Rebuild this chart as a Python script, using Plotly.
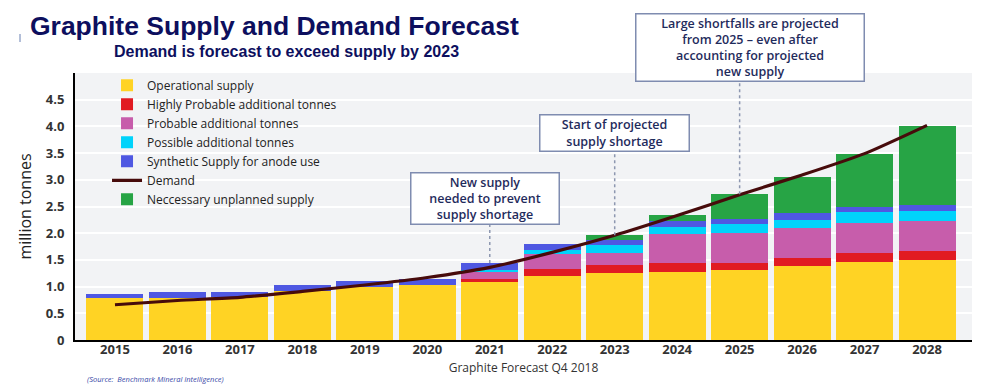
import plotly.graph_objects as go

# ---------------- data (million tonnes) ----------------
years = [str(y) for y in range(2015, 2029)]
operational = [0.78, 0.79, 0.80, 0.92, 0.99, 1.03, 1.08, 1.19, 1.26, 1.28, 1.31, 1.39, 1.47, 1.50]
highly_probable = [0, 0, 0, 0, 0, 0, 0.06, 0.14, 0.14, 0.16, 0.13, 0.14, 0.16, 0.17]
probable = [0, 0, 0, 0, 0, 0, 0.13, 0.28, 0.23, 0.54, 0.56, 0.57, 0.56, 0.55]
possible = [0, 0, 0, 0, 0, 0, 0.04, 0.08, 0.15, 0.14, 0.17, 0.15, 0.20, 0.19]
synthetic = [0.08, 0.10, 0.09, 0.11, 0.11, 0.12, 0.13, 0.11, 0.10, 0.11, 0.10, 0.12, 0.10, 0.11]
unplanned = [0, 0, 0, 0, 0, 0, 0, 0, 0.08, 0.12, 0.46, 0.69, 1.00, 1.49]
demand = [0.66, 0.74, 0.80, 0.91, 1.03, 1.17, 1.36, 1.64, 1.96, 2.33, 2.72, 3.09, 3.49, 4.02]

ytick_vals = [0, 0.5, 1.0, 1.5, 2.0, 2.5, 3.0, 3.5, 4.0, 4.5]
ytick_text = ["0", "0.5", "1.0", "1.5", "2.0", "2.5", "3.0", "3.5", "4.0", "4.5"]

callout_years = ["2021", "2023", "2025"]
callout_texts = [
    "New supply<br>needed to prevent<br>supply shortage",
    "Start of projected<br>supply shortage",
    "Large shortfalls are projected<br>from 2025 \u2013 even after<br>accounting for projected<br>new supply",
]

# ---------------- styling ----------------
C_YELLOW = "#FFD324"
C_RED = "#E11B22"
C_PINK = "#C75DAB"
C_CYAN = "#00D3FB"
C_BLUE = "#4F58E2"
C_GREEN = "#27A445"
C_DEMAND = "#470B0B"
NAVY = "#0D0F5E"
BOX_TXT = "#1F2B5C"
BOX_BORDER = "#7F8CB0"

fig = go.Figure()

bar_series = [
    ("Operational supply", operational, C_YELLOW),
    ("Highly Probable additional tonnes", highly_probable, C_RED),
    ("Probable additional tonnes", probable, C_PINK),
    ("Possible additional tonnes", possible, C_CYAN),
    ("Synthetic Supply for anode use", synthetic, C_BLUE),
]
for name, vals, col in bar_series:
    fig.add_trace(go.Bar(x=years, y=vals, name=name, marker=dict(color=col, line=dict(width=0))))

fig.add_trace(go.Scatter(x=years, y=demand, name="Demand", mode="lines",
                         line=dict(color=C_DEMAND, width=3.2, shape="spline", smoothing=0.6)))

fig.add_trace(go.Bar(x=years, y=unplanned, name="Neccessary unplanned supply",
                     marker=dict(color=C_GREEN, line=dict(width=0))))

totals = [sum(v) for v in zip(operational, highly_probable, probable, possible, synthetic, unplanned)]

# callout boxes: (bottom in data units, xshift px, box width, box height)
box_layout = [(2.16, -5, 145, 48), (3.52, 0, 146, 33), (4.83, 10, 225, 64)]
for yr, txt, (ybot, xs, w, h) in zip(callout_years, callout_texts, box_layout):
    idx = years.index(yr)
    fig.add_shape(type="line", xref="x", yref="y", x0=idx, x1=idx, y0=totals[idx], y1=ybot,
                  line=dict(color="#8D97B0", width=1.5, dash="dot"))
    fig.add_annotation(x=idx, y=ybot, xref="x", yref="y", text=txt, showarrow=False,
                       xanchor="center", yanchor="bottom", xshift=xs, width=w, height=h,
                       align="center", valign="middle",
                       bgcolor="white", bordercolor=BOX_BORDER, borderwidth=1.5, borderpad=1,
                       font=dict(family="Open Sans", size=12.5, color=BOX_TXT, weight=600))

# subtitle
fig.add_annotation(text="<b>Demand is forecast to exceed supply by 2023</b>", xref="paper", yref="paper",
                   x=0.2358, y=1.082, xanchor="center", yanchor="middle", showarrow=False,
                   font=dict(family="Liberation Sans, Arial", size=16, color=NAVY))
# source
fig.add_annotation(text="<i>(Source:  Benchmark Mineral Intelligence)</i>", xref="paper", yref="paper",
                   x=0.0111, y=-0.146, xanchor="left", yanchor="middle", showarrow=False,
                   font=dict(family="Open Sans", size=7.5, color="#3A4AA8"))
# small stray mark left of title
fig.add_shape(type="line", xref="paper", yref="paper", x0=-0.0613, x1=-0.0613, y0=1.116, y1=1.146,
              line=dict(color="#9AAACC", width=1.5))

fig.update_layout(
    width=989, height=387,
    margin=dict(l=75, r=17, t=73, b=47, autoexpand=False),
    paper_bgcolor="white",
    plot_bgcolor="#F2F3F5",
    barmode="stack",
    bargap=0.087,
    title=dict(text="<b>Graphite Supply and Demand Forecast</b>", xref="container", yref="container",
               x=0.0303, xanchor="left", y=0.934, yanchor="middle",
               font=dict(family="Liberation Sans, Arial", size=26.5, color=NAVY)),
    legend=dict(x=0.0357, y=1.008, xanchor="left", yanchor="top", bgcolor="rgba(0,0,0,0)",
                traceorder="normal", itemwidth=30,
                font=dict(family="Open Sans", size=12, color="#222222")),
    showlegend=True,
)

fig.update_xaxes(
    type="category", range=[-0.64, 13.72], automargin=False,
    showline=True, linecolor="black", linewidth=2,
    showgrid=False, ticks="", ticklabelstandoff=-4,
    tickfont=dict(family="Open Sans", size=13, color="#333333", weight=700),
    title=dict(text="Graphite Forecast Q4 2018", standoff=7,
               font=dict(family="Open Sans", size=12, color="#333333")),
)
fig.update_yaxes(
    range=[0, 5.0], automargin=False,
    tickvals=ytick_vals, ticktext=ytick_text,
    showline=True, linecolor="black", linewidth=2,
    showgrid=True, gridcolor="white", gridwidth=1.5,
    zeroline=False, ticks="", ticklabelstandoff=6,
    tickfont=dict(family="Open Sans", size=13, color="#333333", weight=700),
    title=dict(text="million tonnes", standoff=10,
               font=dict(family="Open Sans", size=16, color="#222222")),
)

fig.write_html("out.html", config={"displayModeBar": False},
               post_script="document.body.style.margin='0';")
